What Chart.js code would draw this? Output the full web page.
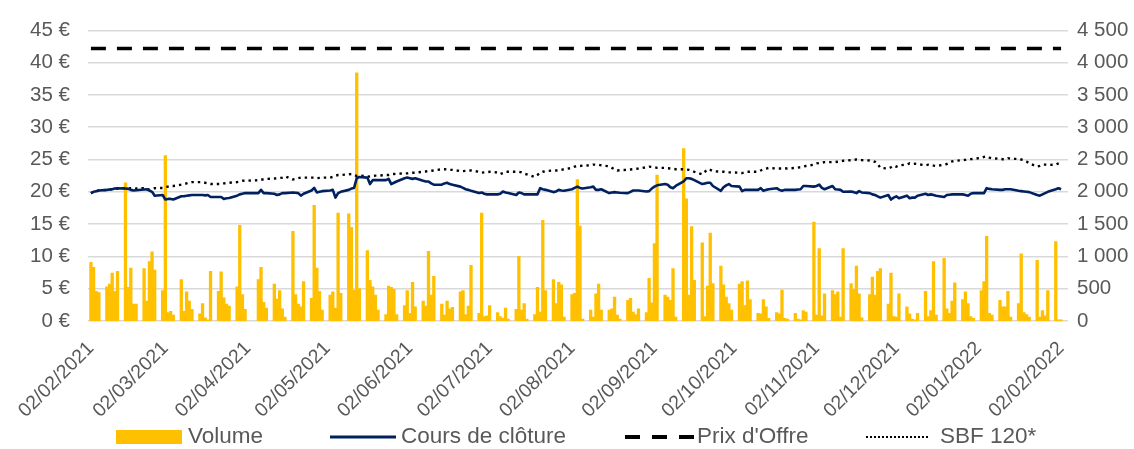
<!DOCTYPE html>
<html>
<head>
<meta charset="utf-8">
<script src="https://cdn.jsdelivr.net/npm/chart.js"></script>
<style>
  html, body { margin: 0; padding: 0; background: #fff; }
  canvas { display: block; }
</style>
</head>
<body>
<canvas id="chart" width="1134" height="449"></canvas>
<script>
// Period and market calendar
const firstDay = '2021-02-02';
const lastDay = '2022-02-02';
const holidays = ['2021-04-02', '2021-04-05'];

// Axis ticks
const tickDates = ['2021-02-02', '2021-03-02', '2021-04-02', '2021-05-02', '2021-06-02', '2021-07-02',
  '2021-08-02', '2021-09-02', '2021-10-02', '2021-11-02', '2021-12-02', '2022-01-02', '2022-02-02'];
const tickLabels = ['02/02/2021', '02/03/2021', '02/04/2021', '02/05/2021', '02/06/2021', '02/07/2021',
  '02/08/2021', '02/09/2021', '02/10/2021', '02/11/2021', '02/12/2021', '02/01/2022', '02/02/2022'];

// Series, one line per trading week
const volume = [
  910, 830, 460, 440,
  530, 570, 740, 460, 770,
  2140, 520, 820, 260, 260,
  810, 310, 920, 1070, 790,
  470, 2560, 130, 150, 90,
  640, 150, 450, 310, 180,
  110, 270, 50, 20, 770,
  460, 760, 360, 260, 230,
  530, 1480, 410, 180,
  640, 830, 290, 200,
  570, 340, 470, 190, 60,
  1390, 410, 260, 220, 610,
  350, 1790, 820, 460, 170,
  400, 450, 200, 1670, 430,
  1660, 1450, 480, 3840, 500,
  1090, 630, 530, 400, 170,
  100, 540, 520, 490, 100,
  240, 470, 120, 600, 220,
  310, 230, 1080, 400, 690,
  260, 90, 310, 190, 210,
  450, 470, 100, 230, 860,
  120, 1670, 70, 80, 240,
  130, 70, 40, 200, 30,
  180, 1000, 170, 270, 30,
  100, 520, 140, 1560, 470,
  640, 270, 600, 560, 60,
  410, 430, 2190, 1470, 30,
  170, 60, 420, 570, 170,
  170, 190, 370, 90, 30,
  320, 350, 140, 100, 190,
  130, 660, 280, 1200, 2260,
  400, 370, 320, 810, 60,
  2670, 1890, 400, 1460, 630,
  1210, 70, 540, 1360, 580,
  850, 560, 370, 270, 170,
  570, 610, 240, 620, 330,
  120, 110, 330, 220, 40,
  130, 110, 480, 40, 30,
  120, 30, 20, 160, 140,
  1530, 90, 1120, 80, 420,
  470, 410, 450, 60, 1120,
  580, 490, 850, 420, 50,
  410, 680, 400, 770, 810,
  260, 740, 70, 60, 420,
  220, 110, 30, 20, 120,
  460, 70, 160, 920, 90,
  970, 190, 120, 310, 590,
  330, 450, 270, 70, 40,
  470, 610, 1310, 120, 90,
  320, 220, 220, 460, 60,
  270, 1040, 130, 100, 60,
  940, 60, 160, 80, 470,
  1230, 20, 20
];

const closePrice = [
  19.8, 20.0, 20.1, 20.2,
  20.3, 20.35, 20.4, 20.5, 20.55,
  20.5, 20.45, 20.3, 20.2, 20.25,
  20.35, 20.4, 20.2, 20.0, 19.4,
  19.5, 18.8, 18.9, 18.9, 18.8,
  19.3, 19.3, 19.4, 19.45, 19.5,
  19.5, 19.5, 19.45, 19.5, 19.2,
  19.2, 19.2, 18.9, 19.0, 19.05,
  19.4, 19.6, 19.7, 19.8,
  19.8, 20.3, 19.8, 19.8,
  19.7, 19.5, 19.6, 19.8, 19.8,
  19.9, 19.85, 19.8, 19.4, 19.7,
  20.2, 20.6, 19.9, 20.0, 20.1,
  20.2, 20.3, 19.1, 19.8, 20.0,
  20.3, 20.5, 20.6, 22.1, 22.3,
  22.2, 21.2, 21.8, 21.8, 21.8,
  21.8, 22.0, 21.2, 21.4, 21.6,
  22.1, 22.2, 22.1, 22.0, 22.1,
  21.7, 21.6, 21.6, 21.3, 21.1,
  21.1, 21.3, 21.4, 21.2, 21.1,
  20.8, 20.6, 20.4, 20.3, 20.15,
  19.8, 19.9, 19.7, 19.6, 19.6,
  19.6, 19.7, 20.05, 19.9, 19.8,
  19.5, 19.9, 19.8, 19.6, 19.6,
  19.6, 19.6, 20.56, 20.4, 20.3,
  19.95, 20.05, 20.3, 20.2, 20.15,
  20.4, 20.6, 20.8, 20.6, 20.5,
  20.7, 20.8, 20.3, 20.3, 20.4,
  19.8, 19.9, 19.95, 19.9, 19.85,
  19.8, 20.0, 20.2, 20.2, 20.2,
  20.05, 20.1, 20.5, 20.8, 21.0,
  21.2, 21.1, 20.7, 20.56, 20.9,
  21.6, 22.1, 22.1, 22.0, 21.8,
  21.2, 21.3, 21.4, 21.4, 20.9,
  20.15, 20.7, 21.0, 21.2, 20.9,
  20.8, 20.1, 20.3, 20.3, 20.3,
  20.3, 20.56, 20.15, 20.3, 20.4,
  20.56, 20.3, 20.15, 20.3, 20.3,
  20.3, 20.35, 20.4, 20.9, 20.9,
  20.8, 20.9, 21.1, 20.6, 20.4,
  20.9, 20.4, 20.35, 20.3, 20.0,
  20.05, 19.95, 19.8, 20.1, 19.9,
  19.8, 19.6, 19.5, 19.3, 19.1,
  19.5, 18.8, 19.1, 19.3, 19.0,
  19.4, 19.0, 19.1, 19.1, 19.4,
  19.7, 19.5, 19.6, 19.5, 19.4,
  19.2, 19.5, 19.55, 19.6, 19.6,
  19.6, 19.5, 19.4, 19.7, 19.8,
  19.8, 19.8, 20.56, 20.45, 20.4,
  20.3, 20.3, 20.4, 20.4, 20.4,
  20.15, 20.1, 20.05, 20.0, 19.95,
  19.5, 19.4, 19.6, 19.8, 20.0,
  20.4, 20.56, 20.4
];

const sbf120 = [
  19.8, 20.0, 20.1, 20.2,
  20.3, 20.35, 20.4, 20.45, 20.5,
  20.56, 20.5, 20.55, 20.56, 20.5,
  20.56, 20.5, 20.3, 20.4, 20.56,
  20.6, 20.7, 20.8, 20.9, 20.9,
  21.1, 21.2, 21.3, 21.4, 21.5,
  21.5, 21.5, 21.4, 21.3, 21.2,
  21.2, 21.2, 21.3, 21.35, 21.4,
  21.5, 21.6, 21.7, 21.7,
  21.8, 21.9, 21.9, 22.0,
  22.05, 22.1, 22.15, 22.2, 22.4,
  21.9, 22.0, 22.1, 22.2, 22.2,
  22.2, 22.2, 22.1, 22.15, 22.2,
  22.2, 22.3, 22.5, 22.6, 22.6,
  22.7, 22.75, 22.6, 22.45, 22.5,
  22.4, 22.35, 22.4, 22.5, 22.5,
  22.6, 22.6, 22.7, 22.75, 22.8,
  22.85, 22.85, 22.9, 22.95, 22.96,
  23.1, 23.15, 23.2, 23.25, 23.3,
  23.5, 23.5, 23.45, 23.4, 23.4,
  23.2, 23.2, 23.25, 23.3, 23.3,
  23.1, 22.96, 23.0, 23.05, 23.1,
  23.0, 22.75, 22.9, 23.1, 23.1,
  23.1, 23.1, 23.0, 22.8, 22.7,
  22.3, 22.6, 22.96, 23.1, 23.2,
  23.3, 23.3, 23.3, 23.4, 23.5,
  23.7, 23.9, 24.0, 24.0, 24.05,
  24.1, 24.2, 24.2, 24.2, 24.1,
  23.95, 23.7, 23.5, 23.3, 23.35,
  23.4, 23.45, 23.5, 23.55, 23.6,
  23.8, 23.9, 23.85, 23.8, 23.7,
  23.7, 23.65, 23.6, 23.55, 23.5,
  23.5, 23.45, 23.4, 23.3, 23.1,
  22.7, 23.1, 23.5, 23.4, 23.2,
  23.1, 23.1, 23.0, 23.0, 23.0,
  22.96, 22.9, 23.0, 23.1, 23.1,
  23.1, 23.3, 23.5, 23.6, 23.7,
  23.6, 23.6, 23.6, 23.65, 23.6,
  23.7, 23.75, 23.8, 23.9, 24.0,
  24.2, 24.4, 24.45, 24.5, 24.6,
  24.6, 24.6, 24.65, 24.7, 24.8,
  24.9, 24.95, 25.0, 24.95, 24.9,
  24.85, 24.8, 24.65, 24.3, 23.7,
  23.6, 23.8, 24.05, 23.9, 24.1,
  24.2, 24.4, 24.3, 24.35, 24.3,
  24.1, 24.2, 24.1, 24.05, 24.0,
  24.2, 24.3, 24.5, 24.7, 24.8,
  24.9, 24.95, 25.0, 25.05, 25.1,
  25.25, 25.4, 25.5, 25.3, 25.2,
  25.1, 25.05, 25.05, 25.2, 25.1,
  25.1, 25.0, 24.9, 24.7, 24.4,
  23.9, 24.0, 24.2, 24.2, 24.15,
  24.2, 24.4, 24.6
];

const offerPrice = 42.2;

// Build trading-day positions (days since firstDay)
const DAY = 86400000;
const t0 = Date.parse(firstDay);
const dayIndex = s => Math.round((Date.parse(s) - t0) / DAY);
const days = [];
for (let t = t0; t <= Date.parse(lastDay); t += DAY) {
  const d = new Date(t);
  const wd = d.getUTCDay();
  if (wd === 0 || wd === 6 || holidays.includes(d.toISOString().slice(0, 10))) continue;
  days.push(Math.round((t - t0) / DAY));
}
const pts = arr => days.map((x, i) => ({ x: x, y: arr[i] }));

const FONT = "'Liberation Sans', Arial, sans-serif";
const GREY = '#595959';
const NAVY = '#002060';
const GOLD = '#FFC000';

const fmtThousands = v => String(v).replace(/\B(?=(\d{3})+(?!\d))/g, ' ');

// Legend drawn on the canvas, below the axis labels
const bottomLegend = {
  id: 'bottomLegend',
  afterDraw(chart) {
    const ctx = chart.ctx;
    const y = 437;
    ctx.save();
    ctx.font = '22.5px ' + FONT;
    ctx.textBaseline = 'middle';

    ctx.fillStyle = GOLD;
    ctx.fillRect(116, 430, 66, 14);
    ctx.fillStyle = GREY;
    ctx.fillText('Volume', 188, y);

    ctx.strokeStyle = NAVY;
    ctx.lineWidth = 3;
    ctx.beginPath(); ctx.moveTo(330, y); ctx.lineTo(396, y); ctx.stroke();
    ctx.fillText('Cours de clôture', 401, y);

    ctx.strokeStyle = '#000';
    ctx.lineWidth = 4;
    ctx.setLineDash([15, 12]);
    ctx.beginPath(); ctx.moveTo(625, y); ctx.lineTo(694, y); ctx.stroke();
    ctx.setLineDash([]);
    ctx.fillText("Prix d'Offre", 697, y);

    ctx.strokeStyle = '#000';
    ctx.lineWidth = 2;
    ctx.setLineDash([2, 2]);
    ctx.beginPath(); ctx.moveTo(866, y); ctx.lineTo(930, y); ctx.stroke();
    ctx.setLineDash([]);
    ctx.fillText('SBF 120*', 940, y);
    ctx.restore();
  }
};

new Chart(document.getElementById('chart').getContext('2d'), {
  type: 'bar',
  data: {
    datasets: [
      {
        type: 'line',
        label: 'Cours de clôture',
        data: pts(closePrice),
        yAxisID: 'y',
        borderColor: NAVY,
        borderWidth: 2.6,
        pointRadius: 0,
        tension: 0,
        borderJoinStyle: 'round',
        order: 1
      },
      {
        type: 'line',
        label: 'SBF 120*',
        data: pts(sbf120),
        yAxisID: 'y',
        borderColor: '#000',
        borderWidth: 2.4,
        borderDash: [2.4, 4],
        pointRadius: 0,
        tension: 0,
        order: 2
      },
      {
        type: 'line',
        label: "Prix d'Offre",
        data: days.map(x => ({ x: x, y: offerPrice })),
        yAxisID: 'y',
        borderColor: '#000',
        borderWidth: 3.5,
        borderDash: [15, 11],
        pointRadius: 0,
        order: 3
      },
      {
        label: 'Volume',
        data: pts(volume),
        yAxisID: 'y1',
        backgroundColor: GOLD,
        borderWidth: 0,
        categoryPercentage: 1,
        barPercentage: 1,
        order: 4
      }
    ]
  },
  options: {
    responsive: false,
    animation: false,
    layout: { padding: { top: 27, left: 0, right: 0, bottom: 0 } },
    plugins: {
      legend: { display: false },
      tooltip: { enabled: false }
    },
    scales: {
      x: {
        type: 'linear',
        offset: false,
        min: -1.1,
        max: 367.6,
        afterBuildTicks: s => { s.ticks = tickDates.map(d => ({ value: dayIndex(d) })); },
        afterFit: s => { s.height = 128; },
        grid: { display: false, drawTicks: false, offset: false },
        border: { display: false },
        ticks: {
          autoSkip: false,
          minRotation: 45,
          maxRotation: 45,
          padding: 16,
          color: GREY,
          font: { family: FONT, size: 19.5 },
          callback: (v, i) => tickLabels[i]
        }
      },
      y: {
        position: 'left',
        min: 0,
        max: 45,
        afterFit: s => { s.width = 88; },
        grid: { color: '#d9d9d9', lineWidth: 1.5, drawTicks: false },
        border: { display: false },
        ticks: {
          stepSize: 5,
          padding: 18,
          color: GREY,
          font: { family: FONT, size: 20.5 },
          callback: v => v + ' €'
        }
      },
      y1: {
        position: 'right',
        min: 0,
        max: 4500,
        afterFit: s => { s.width = 66; },
        grid: { display: false, drawTicks: false },
        border: { display: false },
        ticks: {
          stepSize: 500,
          padding: 9,
          color: GREY,
          font: { family: FONT, size: 20.5 },
          callback: v => fmtThousands(v)
        }
      }
    }
  },
  plugins: [bottomLegend]
});
</script>
</body>
</html>
